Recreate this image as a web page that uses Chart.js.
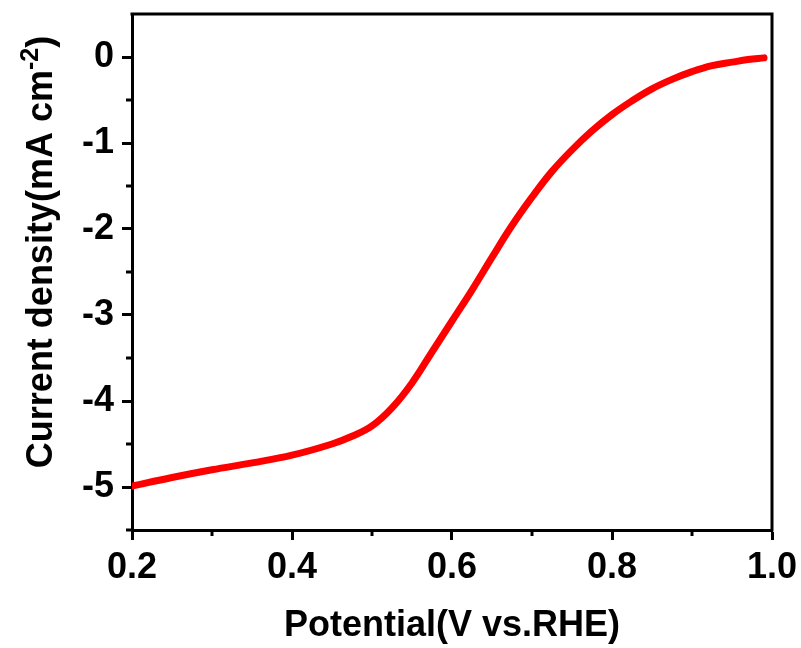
<!DOCTYPE html>
<html lang="en">
<head>
    <meta charset="UTF-8">
    <title>LSV curve</title>
    <script src="https://cdn.jsdelivr.net/npm/chart.js"></script>
    <style>
        html, body { margin: 0; padding: 0; background: #fff; }
        .chart-container { width: 801px; height: 648px; }
    </style>
</head>
<body>
    <div class="chart-container"><canvas id="lsv"></canvas></div>
    <script>
        // potential (V vs. RHE) and current density (mA cm-2)
        const potential = [0.20, 0.25, 0.30, 0.35, 0.40, 0.45, 0.475, 0.50, 0.525, 0.55, 0.575, 0.60,
                           0.625, 0.65, 0.675, 0.70, 0.725, 0.75, 0.775, 0.80, 0.825, 0.85, 0.875,
                           0.90, 0.925, 0.95, 0.97, 0.99];
        const currentDensity = [-4.99, -4.89, -4.80, -4.72, -4.63, -4.50, -4.41, -4.29, -4.08, -3.79, -3.43, -3.07,
                                -2.71, -2.33, -1.96, -1.63, -1.33, -1.08, -0.86, -0.67, -0.51, -0.37, -0.26,
                                -0.17, -0.10, -0.06, -0.03, -0.01];
        const xTicks = [0.2, 0.4, 0.6, 0.8, 1.0];
        const yTicks = [-5, -4, -3, -2, -1, 0];
        const xMinorTicks = [0.3, 0.5, 0.7, 0.9];
        const yMinorTicks = [-5.5, -4.5, -3.5, -2.5, -1.5, -0.5];

        const FONT = '"Liberation Sans", Arial, sans-serif';

        // top/right frame, minor ticks and the y title with a real superscript
        const framePlugin = {
            id: 'frame',
            afterDraw(chart) {
                const { ctx, chartArea: a, scales } = chart;
                ctx.save();
                ctx.strokeStyle = '#000';
                ctx.lineWidth = 3;
                ctx.beginPath();
                ctx.moveTo(a.left - 1.5, a.top);
                ctx.lineTo(a.right, a.top);
                ctx.lineTo(a.right, a.bottom + 1.5);
                ctx.stroke();

                ctx.beginPath();
                xMinorTicks.forEach(v => {
                    const px = scales.x.getPixelForValue(v);
                    ctx.moveTo(px, a.bottom);
                    ctx.lineTo(px, a.bottom + 6);
                });
                yMinorTicks.forEach(v => {
                    const py = scales.y.getPixelForValue(v);
                    ctx.moveTo(a.left, py);
                    ctx.lineTo(a.left - 6, py);
                });
                ctx.stroke();

                ctx.fillStyle = '#000';
                ctx.translate(52, 252);
                ctx.rotate(-Math.PI / 2);
                ctx.textBaseline = 'alphabetic';
                ctx.textAlign = 'left';
                const main = 'Current density(mA cm';
                const sup = '-2';
                const end = ')';
                ctx.font = 'bold 36px ' + FONT;
                const w1 = ctx.measureText(main).width;
                const w3 = ctx.measureText(end).width;
                ctx.font = 'bold 25px ' + FONT;
                const w2 = ctx.measureText(sup).width;
                const start = -(w1 + w2 + w3) / 2;
                ctx.font = 'bold 36px ' + FONT;
                ctx.fillText(main, start, 0);
                ctx.font = 'bold 25px ' + FONT;
                ctx.fillText(sup, start + w1, -14);
                ctx.font = 'bold 36px ' + FONT;
                ctx.fillText(end, start + w1 + w2, 0);
                ctx.restore();
            }
        };

        new Chart(document.getElementById('lsv'), {
            type: 'scatter',
            data: {
                datasets: [{
                    data: potential.map((v, i) => ({ x: v, y: currentDensity[i] })),
                    showLine: true,
                    borderColor: '#ff0000',
                    backgroundColor: '#ff0000',
                    borderWidth: 7,
                    borderCapStyle: 'round',
                    borderJoinStyle: 'round',
                    pointRadius: 0,
                    tension: 0.4
                }]
            },
            options: {
                responsive: true,
                maintainAspectRatio: false,
                animation: false,
                layout: { padding: { left: 0, top: 14, right: 29, bottom: 0 } },
                plugins: {
                    legend: { display: false },
                    tooltip: { enabled: false }
                },
                scales: {
                    x: {
                        type: 'linear',
                        min: 0.2,
                        max: 1.0,
                        afterBuildTicks(scale) {
                            scale.ticks = xTicks.map(v => ({ value: v }));
                        },
                        ticks: {
                            color: '#000',
                            padding: 6,
                            font: { family: FONT, size: 36, weight: 'bold' },
                            callback: v => v.toFixed(1)
                        },
                        grid: { drawOnChartArea: false, tickLength: 10, tickWidth: 3, tickColor: '#000' },
                        border: { color: '#000', width: 3 },
                        title: {
                            display: true,
                            text: 'Potential(V vs.RHE)',
                            color: '#000',
                            font: { family: FONT, size: 36, weight: 'bold' },
                            padding: { top: 0, bottom: 0 }
                        },
                        afterFit(scale) {
                            scale.height = 118;
                            scale.paddingLeft = 0;
                            scale.paddingRight = 0;
                        }
                    },
                    y: {
                        min: -5.5,
                        max: 0.5,
                        afterBuildTicks(scale) {
                            scale.ticks = yTicks.map(v => ({ value: v }));
                        },
                        ticks: {
                            color: '#000',
                            padding: 8,
                            font: { family: FONT, size: 36, weight: 'bold' }
                        },
                        grid: { drawOnChartArea: false, tickLength: 10, tickWidth: 3, tickColor: '#000' },
                        border: { color: '#000', width: 3 },
                        afterFit(scale) {
                            scale.width = 132;
                            scale.paddingTop = 0;
                            scale.paddingBottom = 0;
                        }
                    }
                }
            },
            plugins: [framePlugin]
        });
    </script>
</body>
</html>
